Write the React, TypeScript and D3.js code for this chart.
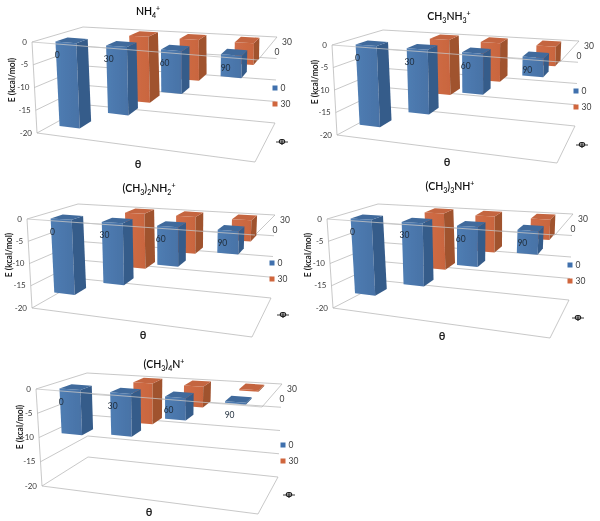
import React from "react";
import * as d3 from "d3";

type Pt = [number, number];
type Seg = [string, "n" | "sub" | "sup"];

// ---- data ----
const thetaLabels = ["0", "30", "60", "90"];
const phiLabels = ["0", "30"];
const valueTicks = [0, -5, -10, -15, -20];

const phi0Values = [
  [-18.7, -14.6, -8.9, -4.5],
  [-18.0, -14.0, -8.6, -3.9],
  [-16.8, -13.4, -8.3, -4.7],
  [-16.9, -13.6, -8.3, -4.7],
  [-9.3, -8.6, -4.4, -0.3],
];
const phi30Values = [
  [0, -15.4, -9.3, -4.8],
  [0, -13.0, -8.9, -4.4],
  [0, -13.2, -8.6, -4.8],
  [0, -13.2, -8.2, -4.5],
  [0, -8.9, -4.4, -0.3],
];

const panelTitles: Seg[][] = [
  [["NH", "n"], ["4", "sub"], ["+", "sup"]],
  [["CH", "n"], ["3", "sub"], ["NH", "n"], ["3", "sub"], ["+", "sup"]],
  [["(CH", "n"], ["3", "sub"], [")", "n"], ["2", "sub"], ["NH", "n"], ["2", "sub"], ["+", "sup"]],
  [["(CH", "n"], ["3", "sub"], [")", "n"], ["3", "sub"], ["NH", "n"], ["+", "sup"]],
  [["(CH", "n"], ["3", "sub"], [")", "n"], ["4", "sub"], ["N", "n"], ["+", "sup"]],
];

// ---- layout of each 3D frame: top FL, BL, BR, FR then bottom FL, BL, BR, FR ----
const frames: Pt[][] = [
  [[32, 42], [83, 27], [277, 37], [258, 60], [37, 133], [88, 105], [275, 123], [255, 162]],
  [[332, 45], [383, 30], [579, 41], [560, 62], [337, 135], [389, 107], [575, 126], [557, 163]],
  [[27, 219], [78, 204], [275, 215], [255, 235], [32, 308], [83, 279], [271, 298], [252, 337]],
  [[327, 219], [378, 204], [573, 214], [555, 235], [333, 308], [385, 281], [569, 300], [550, 338]],
  [[36, 389], [87, 373], [282, 384], [262, 407], [42, 486], [88, 457], [278, 477], [258, 514]],
];
const titlePos: Pt[] = [[148, 15], [449, 20], [149, 192], [450, 190], [164, 368]];
const thetaPos: Pt[] = [[138, 168], [447, 166], [143, 339], [442, 340], [149, 516]];
const phiPos: Pt[] = [[282, 146], [582, 149], [283, 319], [578, 322], [289, 499]];
const yTitlePos: Pt[] = [[13, 80], [316, 82], [10, 255], [309, 255], [21, 427]];
const legendPos: Pt[] = [[275, 88], [576, 91], [272, 263], [570, 265], [283, 445]];

const barCentres = [0.125, 0.353, 0.6, 0.87];
const barHalfWidth = 0.047;
const rowFront = [0.12, 0.68];
const barDepth = 0.25;

const BLUE = { front0: "#4f7db3", front1: "#4872a6", top: "#3f6a9c", side: "#365c8a", key: "#3f70ad" };
const ORANGE = { front0: "#d06d47", front1: "#c9653e", top: "#c4653f", side: "#a0522f", key: "#d0663e" };
const GRID = "#b0b0b0";
const TEXT = "#3a3a3a";
const FONT = "Lato, 'Open Sans', sans-serif";

const vScale = d3.scaleLinear().domain([0, -20]).range([0, 1]);
const uScale = d3.scaleLinear().domain([0, 1, 2, 3]).range(barCentres);
const lineGen = d3.line<Pt>();

function projector(c: Pt[]) {
  return (u: number, value: number, w: number): Pt => {
    const v = vScale(value);
    const mix = (a: Pt, b: Pt, t: number): Pt => [a[0] + (b[0] - a[0]) * t, a[1] + (b[1] - a[1]) * t];
    const top = mix(mix(c[0], c[3], u), mix(c[1], c[2], u), w);
    const bot = mix(mix(c[4], c[7], u), mix(c[5], c[6], u), w);
    return mix(top, bot, v);
  };
}

function Bar({ p, i, value, row, col, grad }: any) {
  if (value === 0) return null;
  const u0 = uScale(i) - barHalfWidth;
  const u1 = uScale(i) + barHalfWidth;
  const w0 = rowFront[row];
  const w1 = w0 + barDepth;
  const closed = (pts: Pt[]) => lineGen(pts) + "Z";
  return (
    <g>
      <path d={closed([p(u0, 0, w0), p(u1, 0, w0), p(u1, value, w0), p(u0, value, w0)])} fill={`url(#${grad})`} />
      <path d={closed([p(u1, 0, w0), p(u1, 0, w1), p(u1, value, w1), p(u1, value, w0)])} fill={col.side} />
      <path d={closed([p(u0, 0, w0), p(u0, 0, w1), p(u1, 0, w1), p(u1, 0, w0)])} fill={col.top} />
    </g>
  );
}

function Title({ segs, pos }: { segs: Seg[]; pos: Pt }) {
  let prev = 0;
  return (
    <text x={pos[0]} y={pos[1]} textAnchor="middle" fontFamily={FONT} fontSize={10.5} fontWeight={600} fill="#111">
      {segs.map(([t, kind], k) => {
        const shift = kind === "sub" ? 3 : kind === "sup" ? -4 : 0;
        const dy = shift - prev;
        prev = shift;
        return (
          <tspan key={k} dy={dy} fontSize={kind === "n" ? 10.5 : 7}>
            {t}
          </tspan>
        );
      })}
    </text>
  );
}

function Panel({ idx }: { idx: number }) {
  const c = frames[idx];
  const p = projector(c);
  const line = (pts: Pt[]) => lineGen(pts) as string;
  const [lx, ly] = legendPos[idx];
  const br = c[2];
  return (
    <g>
      {/* walls and floor */}
      <g fill="none" stroke={GRID} strokeWidth={0.7}>
        {valueTicks.map((t) => (
          <path key={t} d={line([p(0, t, 0), p(0, t, 1), p(1, t, 1)])} />
        ))}
        <path d={line([p(0, 0, 0), p(0, -20, 0), p(1, -20, 0), p(1, -20, 1)])} />
        <path d={line([p(1, 0, 1), p(1, 0, 0)])} />
      </g>
      {/* bars, back row first */}
      {phi30Values[idx].map((v, i) => (
        <Bar key={i} p={p} i={i} value={v} row={1} col={ORANGE} grad="gOrange" />
      ))}
      {phi0Values[idx].map((v, i) => (
        <Bar key={i} p={p} i={i} value={v} row={0} col={BLUE} grad="gBlue" />
      ))}
      {/* front edge of the zero plane, over the bars */}
      <path d={line([p(0, 0, 0), p(1, 0, 0)])} fill="none" stroke="#c4c4c4" strokeWidth={0.8} />
      {/* category labels */}
      {thetaLabels.map((t, i) => {
        const q = p(uScale(i), 0, 0);
        return (
          <text key={t} x={q[0] - 3} y={q[1] + 13.5} textAnchor="middle" fontFamily={FONT} fontSize={8.5} fill="#1f2c3a">
            {t}
          </text>
        );
      })}
      {/* value ticks */}
      {valueTicks.map((t) => {
        const q = p(0, t, 0);
        return (
          <text key={t} x={q[0] - 5} y={q[1] + 2.5} textAnchor="end" fontFamily={FONT} fontSize={8} fill={TEXT}>
            {t}
          </text>
        );
      })}
      {/* depth ticks */}
      <text x={br[0] + 10} y={br[1] + 8} textAnchor="middle" fontFamily={FONT} fontSize={8.5} fill={TEXT}>{phiLabels[1]}</text>
      <text x={br[0]} y={br[1] + 18} textAnchor="middle" fontFamily={FONT} fontSize={8.5} fill={TEXT}>{phiLabels[0]}</text>
      {/* axis titles */}
      <text
        transform={`translate(${yTitlePos[idx][0]},${yTitlePos[idx][1]}) rotate(-90)`}
        textAnchor="middle"
        dominantBaseline="middle"
        fontFamily={FONT}
        fontSize={8.5}
        fontWeight={700}
        fill="#222"
      >
        E (kcal/mol)
      </text>
      <text x={thetaPos[idx][0]} y={thetaPos[idx][1]} textAnchor="middle" fontFamily={FONT} fontSize={11} fontWeight={700} fill="#222">θ</text>
      <text x={phiPos[idx][0]} y={phiPos[idx][1] - 1} textAnchor="middle" fontFamily="'Liberation Sans', sans-serif" fontSize={8.5} fontWeight={700} fill="#222">Φ</text>
      <line x1={phiPos[idx][0] - 6} x2={phiPos[idx][0] + 6} y1={phiPos[idx][1] - 4} y2={phiPos[idx][1] - 4} stroke="#222" strokeWidth={0.9} />
      {/* legend */}
      {phiLabels.map((t, i) => (
        <g key={t} transform={`translate(${lx},${ly + i * 16})`}>
          <rect x={-2.5} y={-2.5} width={5} height={5} fill={i === 0 ? BLUE.key : ORANGE.key} />
          <text x={5.5} y={3} fontFamily={FONT} fontSize={8.5} fill={TEXT}>{t}</text>
        </g>
      ))}
      <Title segs={panelTitles[idx]} pos={titlePos[idx]} />
    </g>
  );
}

export default function App() {
  return (
    <svg
      width={600}
      height={521}
      viewBox="0 0 600 521"
      style={{ position: "absolute", left: 0, top: 0, background: "#fff" }}
    >
      <defs>
        <linearGradient id="gBlue" x1="0" x2="1" y1="0" y2="0">
          <stop offset="0" stopColor={BLUE.front0} />
          <stop offset="1" stopColor={BLUE.front1} />
        </linearGradient>
        <linearGradient id="gOrange" x1="0" x2="1" y1="0" y2="0">
          <stop offset="0" stopColor={ORANGE.front0} />
          <stop offset="1" stopColor={ORANGE.front1} />
        </linearGradient>
        <filter id="soft" x="0" y="0" width="100%" height="100%" filterUnits="userSpaceOnUse">
          <feGaussianBlur stdDeviation="0.35" />
        </filter>
      </defs>
      <g filter="url(#soft)">
        {panelTitles.map((_, i) => (
          <Panel key={i} idx={i} />
        ))}
      </g>
    </svg>
  );
}
